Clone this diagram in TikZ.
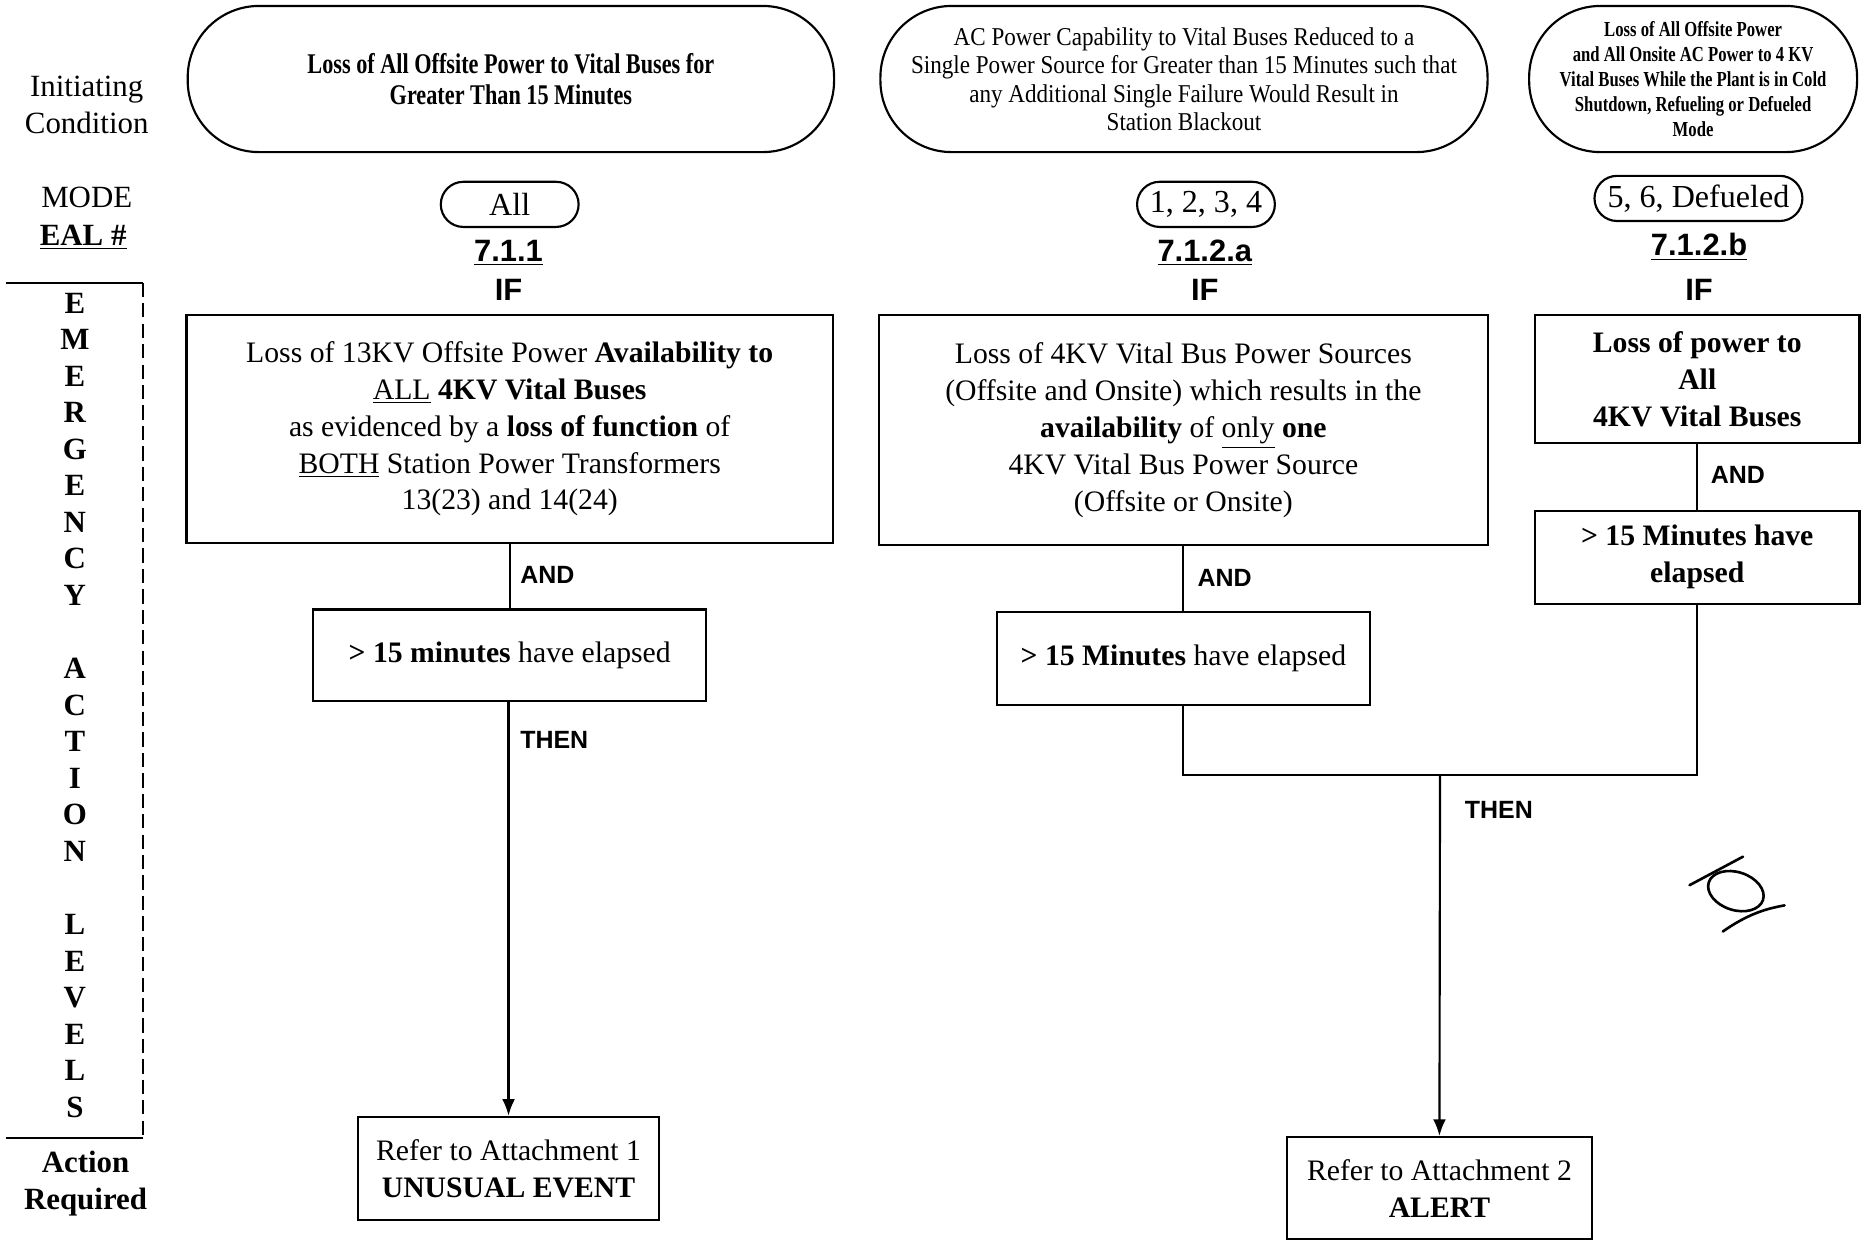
\documentclass[tikz,border=0pt]{standalone}
\usepackage{fontspec}
\setmainfont{Liberation Serif}
\setsansfont{Liberation Sans}
\newfontfamily\narrowserif[FakeStretch=0.78]{Liberation Serif}
\newfontfamily\slimserif[FakeStretch=0.9]{Liberation Serif}
\usetikzlibrary{arrows.meta}

\newcommand\bxfont{\fontsize{12.5}{15.5}\selectfont}

\begin{document}
\begin{tikzpicture}[x=0.5pt,y=-0.5pt,line width=0.9pt,
  box/.style={draw,rectangle,align=center,inner sep=0pt,font=\bxfont},
  pill/.style={draw,rectangle,align=center,inner sep=0pt,rounded corners=#1},
  modefont/.style={font=\fontsize{13.5}{16}\selectfont},
  sanslab/.style={font=\sffamily\bfseries\fontsize{13}{15}\selectfont},
  joinlab/.style={anchor=west,inner sep=0pt,font=\sffamily\bfseries\fontsize{10.5}{12}\selectfont},
  sidefont/.style={align=center,font=\fontsize{13}{15.5}\selectfont},
  flow/.style={-{Latex[length=7pt,width=5.4pt]}},
  scribble/.style={line width=1.1pt,line cap=round}]

\useasboundingbox (0,0) rectangle (1568,1046);

% ---- left-hand legend column ----
\node[sidefont] (initc) at (73,88) {Initiating\\Condition};
\node[sidefont] (modehd) at (73,166) {MODE};
\node[sidefont,font=\bfseries\fontsize{13}{15.5}\selectfont] (ealhd) at (70,200) {\underline{EAL \#}};
\coordinate (ealtopL) at (5,238);
\coordinate (ealtopR) at (120,238);
\coordinate (ealbotL) at (5,958);
\coordinate (ealbotR) at (120,958);
\draw (ealtopL) -- (ealtopR);
\draw (ealbotL) -- (ealbotR);
\draw[dashed,dash pattern=on 6pt off 2.6pt,line width=0.9pt] (ealtopR) -- (ealbotR);
\foreach \ch [count=\i] in {E,M,E,R,G,E,N,C,Y,{},A,C,T,I,O,N,{},L,E,V,E,L,S}
  \node[font=\bfseries\fontsize{13}{15}\selectfont,inner sep=0pt] (lvl\i) at (63,{255+30.77*(\i-1)}) {\ch};
\node[sidefont,font=\bfseries\fontsize{13}{15.5}\selectfont] (actreq) at (72,996) {Action\\Required};

% ---- column 1: EAL 7.1.1 ----
\node[pill=30pt,minimum width=272pt,minimum height=61.5pt,
      font=\narrowserif\bfseries\fontsize{12}{13}\selectfont] (ic1) at (430,66.5)
  {Loss of All Offsite Power to Vital Buses for\\Greater Than 15 Minutes};
\node[pill=9.5pt,minimum width=58pt,minimum height=19pt,modefont] (md1) at (429,172) {All};
\node[sanslab] (eal1) at (428,213) {\underline{7.1.1}};
\node[sanslab] (if1) at (428,244) {IF};
\node[box,minimum width=272pt,minimum height=96pt] (b1) at (429,361)
  {Loss of 13KV Offsite Power \textbf{Availability to}\\
   \underline{ALL} \textbf{4KV Vital Buses}\\
   as evidenced by a \textbf{loss of function} of\\
   \underline{BOTH} Station Power Transformers\\
   13(23) and 14(24)};
\node[box,minimum width=165.5pt,minimum height=38.5pt] (t1) at (429,551.5)
  {\textbf{> 15 minutes} have elapsed};
\node[box,minimum width=126.5pt,minimum height=43.5pt] (r1) at (428,983.5)
  {Refer to Attachment 1\\\textbf{UNUSUAL EVENT}};
\draw (b1.south -| t1.north) -- (t1.north);
\draw[flow] (t1.south -| r1.north) -- (r1.north);
\node[joinlab] (and1) at (437,484) {AND};
\node[joinlab] (then1) at (437,623) {THEN};

% ---- column 2: EAL 7.1.2.a ----
\node[pill=30pt,minimum width=255.5pt,minimum height=61.5pt,
      font=\slimserif\fontsize{10.8}{12}\selectfont] (ic2) at (996.5,66.5)
  {AC Power Capability to Vital Buses Reduced to a\\
   Single Power Source for Greater than 15 Minutes such that\\
   any Additional Single Failure Would Result in\\
   Station Blackout};
\node[pill=9.5pt,minimum width=58pt,minimum height=19pt,modefont] (md2) at (1015,172) {1, 2, 3, 4};
\node[sanslab] (eal2) at (1014,213) {\underline{7.1.2.a}};
\node[sanslab] (if2) at (1014,244) {IF};
\node[box,minimum width=256pt,minimum height=97pt] (b2) at (996,362)
  {Loss of 4KV Vital Bus Power Sources\\
   (Offsite and Onsite) which results in the\\
   \textbf{availability} of \underline{only} \textbf{one}\\
   4KV Vital Bus Power Source\\
   (Offsite or Onsite)};
\node[box,minimum width=157pt,minimum height=39pt] (t2) at (996,554)
  {\textbf{> 15 Minutes} have elapsed};
\draw (b2) -- (t2);
\node[joinlab] (and2) at (1007,486) {AND};

% ---- column 3: EAL 7.1.2.b ----
\node[pill=30pt,minimum width=138pt,minimum height=61.5pt,
      font=\narrowserif\bfseries\fontsize{9}{10.6}\selectfont] (ic3) at (1425,66.5)
  {Loss of All Offsite Power\\
   and All Onsite AC Power to 4 KV\\
   Vital Buses While the Plant is in Cold\\
   Shutdown, Refueling or Defueled\\
   Mode};
\node[pill=9.5pt,minimum width=87.5pt,minimum height=19pt,modefont] (md3) at (1429.5,167) {5, 6, Defueled};
\node[sanslab] (eal3) at (1430,208) {\underline{7.1.2.b}};
\node[sanslab] (if3) at (1430,244) {IF};
\node[box,minimum width=136.5pt,minimum height=54pt,font=\bfseries\bxfont] (b3) at (1428.5,319)
  {Loss of power to\\All\\4KV Vital Buses};
\node[box,minimum width=136.5pt,minimum height=39pt,font=\bfseries\bxfont] (t3) at (1428.5,469)
  {> 15 Minutes have\\elapsed};
\draw (b3) -- (t3);
\node[joinlab] (and3) at (1439,400) {AND};

% ---- shared ALERT branch ----
\node[box,minimum width=128.5pt,minimum height=43pt] (r2) at (1211.5,1000)
  {Refer to Attachment 2\\\textbf{ALERT}};
\coordinate (merge) at (1212,652);
\draw (t2.south) |- (merge) -| (t3.south);
\draw[flow] (merge) -- (r2.north);
\node[joinlab] (then2) at (1232,682) {THEN};

% ---- pencilled page mark ----
\draw[scribble] (1422,745) -- (1467,721);
\draw[scribble,rotate around={-18:(1461,750)}] (1461,750) ellipse (24 and 16);
\draw[scribble] (1450,784) .. controls (1470,770) and (1485,765) .. (1502,762);

\end{tikzpicture}
\end{document}
